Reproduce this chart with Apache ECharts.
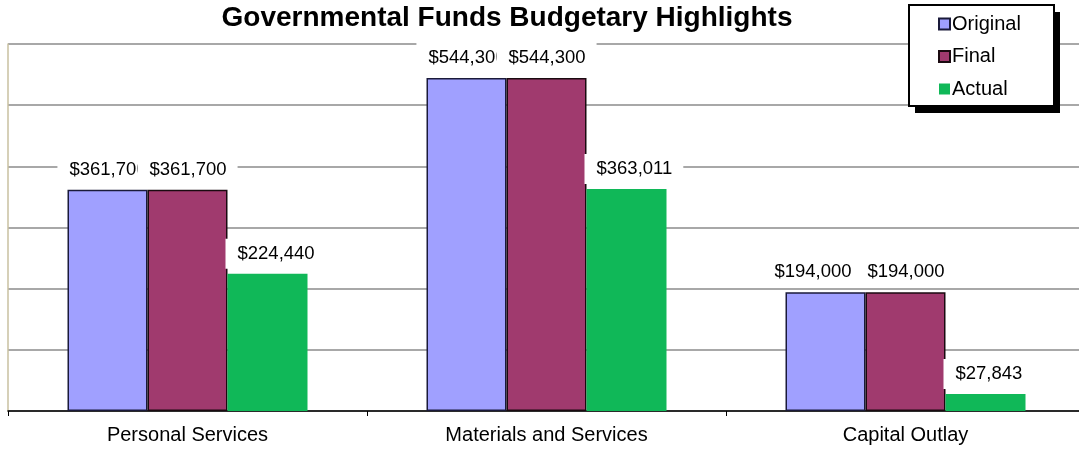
<!DOCTYPE html>
<html>
<head>
<meta charset="utf-8">
<script src="https://cdn.jsdelivr.net/npm/echarts@6/dist/echarts.min.js"></script>
<style>
html,body{margin:0;padding:0;background:#fff;overflow:hidden;width:1079px;height:449px;}
#chart{width:1085px;height:449px;}
</style>
</head>
<body>
<div id="chart"></div>
<script>
const categories = ['Personal Services', 'Materials and Services', 'Capital Outlay'];
const seriesNames = ['Original', 'Final', 'Actual'];
const originalValues = [361700, 544300, 194000];
const finalValues = [361700, 544300, 194000];
const actualValues = [224440, 363011, 27843];
const yTicks = [0, 100000, 200000, 300000, 400000, 500000, 600000];

const FONT = '"Liberation Sans", Arial, sans-serif';
function money(v) {
  return '$' + Number(v).toLocaleString('en-US');
}
const labelBase = {
  show: true,
  formatter: p => money(p.value),
  color: '#000',
  fontFamily: FONT,
  fontSize: 18.5,
  lineHeight: 18,
  backgroundColor: '#fff',
  padding: [6, 11, 6, 12]
};

// Excel nudged the last "Original" label left so it does not collide with its neighbour
const originalData = originalValues.map((v, i) =>
  i === originalValues.length - 1 ? {value: v, label: {offset: [-13, 0]}} : v);

const chart = echarts.init(document.getElementById('chart'), null, {renderer: 'canvas'});
chart.setOption({
  animation: false,
  backgroundColor: '#fff',
  title: {
    text: 'Governmental Funds Budgetary Highlights',
    left: 507,
    textAlign: 'center',
    top: 4,
    padding: 0,
    textStyle: {fontFamily: FONT, fontSize: 28, fontWeight: 'bold', color: '#000'}
  },
  graphic: [
    {type: 'rect', z: 10, silent: true, shape: {x: 915, y: 12, width: 145, height: 101}, style: {fill: '#000'}},
    {type: 'rect', z: 11, silent: true, shape: {x: 909, y: 5, width: 145, height: 101}, style: {fill: '#fff', stroke: '#000', lineWidth: 2}}
  ],
  legend: {
    orient: 'vertical',
    left: 938,
    top: 14,
    z: 20,
    padding: 0,
    itemGap: 12.5,
    itemWidth: 11,
    itemHeight: 11,
    icon: 'rect',
    textStyle: {fontFamily: FONT, fontSize: 20, lineHeight: 20, color: '#000', padding: [0, 0, 0, -3]},
    data: seriesNames
  },
  grid: {left: 8, right: 0, top: 44, bottom: 38, containLabel: false},
  xAxis: {
    type: 'category',
    data: categories,
    axisLine: {lineStyle: {color: '#000', width: 1.5}},
    axisTick: {show: true, length: 5, lineStyle: {color: '#000'}},
    axisLabel: {fontFamily: FONT, fontSize: 20, color: '#000', margin: 14}
  },
  yAxis: {
    type: 'value',
    min: yTicks[0],
    max: yTicks[yTicks.length - 1],
    interval: yTicks[1] - yTicks[0],
    axisLine: {show: true, lineStyle: {color: '#c8c0a0', width: 1.5}},
    axisTick: {show: false},
    axisLabel: {show: false},
    splitLine: {lineStyle: {color: '#a8a8a8', width: 2}}
  },
  series: [
    {
      name: seriesNames[0],
      type: 'bar',
      data: originalData,
      barWidth: 80,
      barGap: '0%',
      itemStyle: {color: '#a0a0ff', borderColor: '#1a1a3a', borderWidth: 1.5},
      label: Object.assign({}, labelBase, {position: 'top', distance: 5})
    },
    {
      name: seriesNames[1],
      type: 'bar',
      data: finalValues,
      barWidth: 80,
      barGap: '0%',
      itemStyle: {color: '#a03a6e', borderColor: '#1a0a10', borderWidth: 1.5},
      label: Object.assign({}, labelBase, {position: 'top', distance: 5})
    },
    {
      name: seriesNames[2],
      type: 'bar',
      data: actualValues,
      barWidth: 80,
      barGap: '0%',
      itemStyle: {color: '#10b858'},
      label: Object.assign({}, labelBase, {position: [-2, -35], align: 'left'})
    }
  ]
});
</script>
</body>
</html>
